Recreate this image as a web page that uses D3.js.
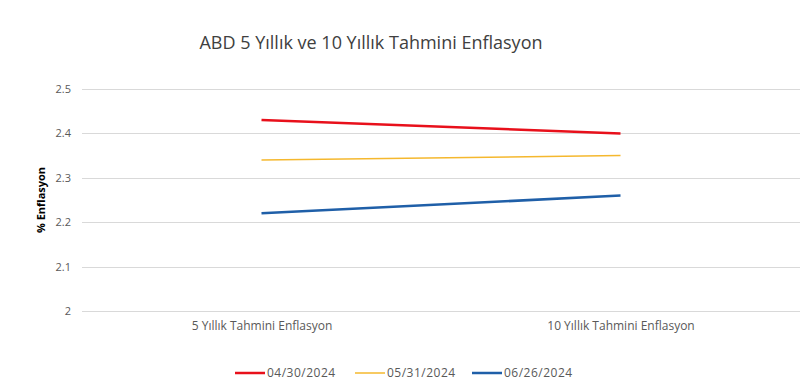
<!DOCTYPE html>
<html>
<head>
<meta charset="utf-8">
<script src="https://cdn.jsdelivr.net/npm/d3@7"></script>
<style>
  body { margin: 0; background: #fff; }
  text { font-family: "Open Sans", "Noto Sans", sans-serif; }
</style>
</head>
<body>
<div id="chart"></div>
<script>
// Chart data
const categories = ["5 Yıllık Tahmini Enflasyon", "10 Yıllık Tahmini Enflasyon"];
const seriesNames = ["04/30/2024", "05/31/2024", "06/26/2024"];
const seriesColors = ["#e8101b", "#f5b82e", "#1f5fa8"];
const seriesWidths = [2.5, 1.5, 2.5];
const values0430 = [2.43, 2.40];
const values0531 = [2.34, 2.35];
const values0626 = [2.22, 2.26];
const yTicks = [2, 2.1, 2.2, 2.3, 2.4, 2.5];

const allValues = [values0430, values0531, values0626];

const W = 800, H = 392;
const margin = { top: 89, right: 0, bottom: 81, left: 82 };
const width = W - margin.left - margin.right;
const height = H - margin.top - margin.bottom;

const svg = d3.select("#chart").append("svg")
  .attr("width", W)
  .attr("height", H);

// Title
svg.append("text")
  .attr("x", 371)
  .attr("y", 49)
  .attr("text-anchor", "middle")
  .attr("font-size", "18px")
  .attr("fill", "#404040")
  .text("ABD 5 Yıllık ve 10 Yıllık Tahmini Enflasyon");

const g = svg.append("g")
  .attr("transform", `translate(${margin.left},${margin.top})`);

// Scales
const x = d3.scalePoint()
  .domain(categories)
  .range([0, width])
  .padding(0.5);

const y = d3.scaleLinear()
  .domain([2, 2.5])
  .range([height, 0]);

// Gridlines
g.selectAll("line.grid")
  .data(yTicks)
  .enter()
  .append("line")
  .attr("class", "grid")
  .attr("x1", 0)
  .attr("x2", width)
  .attr("y1", d => Math.round(y(d)) + 0.5)
  .attr("y2", d => Math.round(y(d)) + 0.5)
  .attr("stroke", "#d9d9d9")
  .attr("stroke-width", 1);

// Y axis labels
const yAxis = g.append("g")
  .call(d3.axisLeft(y).tickValues(yTicks).tickFormat(d3.format("")).tickSize(0).tickPadding(11));
yAxis.select(".domain").remove();
yAxis.selectAll("text")
  .attr("font-size", "11px")
  .attr("fill", "#595959")
  .style("font-family", "'Open Sans', sans-serif");

// X axis labels
const xAxis = g.append("g")
  .attr("transform", `translate(0,${height})`)
  .call(d3.axisBottom(x).tickSize(0).tickPadding(10));
xAxis.select(".domain").remove();
xAxis.selectAll("text")
  .attr("font-size", "12px")
  .attr("fill", "#595959")
  .style("font-family", "'Open Sans', sans-serif");

// Y axis title
svg.append("text")
  .attr("transform", `translate(45,${margin.top + height / 2}) rotate(-90)`)
  .attr("text-anchor", "middle")
  .attr("font-size", "11px")
  .attr("font-weight", "bold")
  .attr("fill", "#000")
  .text("% Enflasyon");

// Lines
const line = d3.line()
  .x((d, i) => x(categories[i]))
  .y(d => y(d));

g.selectAll("path.series")
  .data(allValues)
  .enter()
  .append("path")
  .attr("class", "series")
  .attr("d", line)
  .attr("fill", "none")
  .attr("stroke", (d, i) => seriesColors[i])
  .attr("stroke-width", (d, i) => seriesWidths[i]);

// Legend
const legendX = [235, 355, 472];
const legend = svg.selectAll("g.legend")
  .data(seriesNames)
  .enter()
  .append("g")
  .attr("class", "legend")
  .attr("transform", (d, i) => `translate(${legendX[i]},373)`);

legend.append("line")
  .attr("x1", 0)
  .attr("x2", 30)
  .attr("stroke", (d, i) => seriesColors[i])
  .attr("stroke-width", (d, i) => seriesWidths[i]);

legend.append("text")
  .attr("x", 32)
  .attr("y", 4)
  .attr("font-size", "12px")
  .attr("letter-spacing", "0.5px")
  .attr("fill", "#595959")
  .text(d => d);
</script>
</body>
</html>
